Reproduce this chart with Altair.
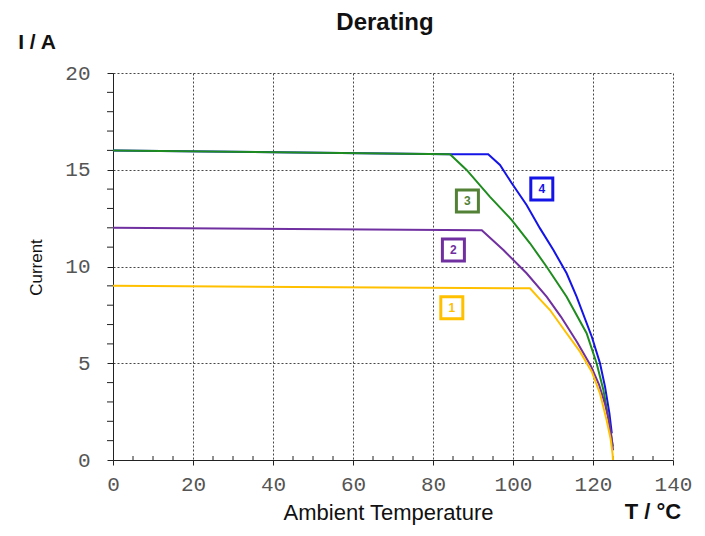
import altair as alt
import pandas as pd

# ---- data ----
t1 = [0, 104.25, 106.75, 109.25, 113.4, 116.75, 119.7, 121.75, 123.4, 124.4, 124.9, 125]
i1 = [9.0, 8.87, 8.3, 7.75, 6.55, 5.6, 4.56, 3.44, 2.07, 1.1, 0.3, 0]

t2 = [0, 92.2, 97.6, 103.4, 108.4, 112.0, 116.0, 119.5, 121.5, 123.0, 124.0, 124.7, 125]
i2 = [12.0, 11.87, 10.85, 9.65, 8.44, 7.4, 6.1, 4.85, 3.9, 2.9, 2.0, 1.1, 0.5]

t3 = [0, 84.25, 88.4, 94.25, 99.7, 104.25, 108.4, 113.4, 118.4, 120.9, 122.6, 123.8, 124.7, 125]
i3 = [16.0, 15.8, 14.99, 13.6, 12.4, 11.2, 9.99, 8.44, 6.55, 5.0, 3.62, 2.24, 1.0, 0.7]

t4 = [0, 84.25, 93.8, 96.75, 99.7, 103.4, 106.75, 110.1, 113.4, 115.9, 119.7, 121.75, 123.0, 124.1, 124.7]
i4 = [16.0, 15.8, 15.8, 15.25, 14.3, 13.18, 11.97, 10.85, 9.65, 8.44, 6.37, 5.0, 3.79, 2.41, 1.38]

series_names = ["1", "2", "3", "4"]
line_colors = ["#FFC000", "#7030A0", "#1E8C1E", "#1414E6"]

label_T = [84.7, 85.1, 88.6, 107.2]
label_I = [7.87, 10.85, 13.38, 14.0]
label_text = ["1", "2", "3", "4"]
label_colors = ["#FFC000", "#7030A0", "#538135", "#1414E6"]

x_major = [0, 20, 40, 60, 80, 100, 120, 140]
y_major = [0, 5, 10, 15, 20]
x_minor = [v for v in range(5, 140, 5) if v % 20 != 0]
y_minor = [v for v in range(1, 20) if v % 5 != 0]

W, H = 560, 387
LABEL_FONT = "Liberation Mono"
TEXT_FONT = "Liberation Sans"

xs = alt.Scale(domain=[0, 140], nice=False)
ys = alt.Scale(domain=[0, 20], nice=False)

x_axis = alt.Axis(values=x_major, grid=True, gridDash=[2, 2], gridColor="#333",
                  gridOpacity=0.9, domainColor="#222", tickColor="#222", tickSize=5,
                  labelFont=LABEL_FONT, labelFontSize=21, labelColor="#555",
                  labelPadding=8, title="Ambient Temperature", titleFont=TEXT_FONT,
                  titleFontSize=22, titleFontWeight="normal", titleColor="#111",
                  titleX=275, titleY=59, titleBaseline="alphabetic", titleAlign="center",
                  labelFlush=False)
y_axis = alt.Axis(values=y_major, grid=True, gridDash=[2, 2], gridColor="#333",
                  gridOpacity=0.9, domainColor="#222", tickColor="#222", tickSize=6,
                  labelFont=LABEL_FONT, labelFontSize=21, labelColor="#555",
                  labelPadding=17, title="Current", titleFont=TEXT_FONT,
                  titleFontSize=17, titleFontWeight="normal", titleColor="#111",
                  titleX=-72, titleY=194, titleBaseline="alphabetic", titleAlign="center",
                  titleAngle=270, labelFlush=False)

# base (axes + grid)
axes_df = pd.DataFrame({"T": [0, 140], "I": [0, 20]})
base = alt.Chart(axes_df).mark_point(opacity=0).encode(
    x=alt.X("T:Q", scale=xs, axis=x_axis),
    y=alt.Y("I:Q", scale=ys, axis=y_axis),
)

layers = [base]

# minor ticks
xm = alt.Chart(pd.DataFrame({"T": x_minor})).mark_rule(color="#222", strokeWidth=1).encode(
    x=alt.X("T:Q", scale=xs), y=alt.value(H - 4), y2=alt.value(H + 1))
ym = alt.Chart(pd.DataFrame({"I": y_minor})).mark_rule(color="#222", strokeWidth=1).encode(
    y=alt.Y("I:Q", scale=ys), x=alt.value(-6), x2=alt.value(0))
layers += [xm, ym]

# curves: draw 4 first so 3 lies on top of the shared flat part
curves = {"1": (t1, i1), "2": (t2, i2), "3": (t3, i3), "4": (t4, i4)}
for name in ["4", "3", "2", "1"]:
    ts, is_ = curves[name]
    col = line_colors[series_names.index(name)]
    d = pd.DataFrame({"T": ts, "I": is_, "k": list(range(len(ts)))})
    layers.append(alt.Chart(d).mark_line(color=col, strokeWidth=2).encode(
        x=alt.X("T:Q", scale=xs), y=alt.Y("I:Q", scale=ys), order="k:Q"))

lab_df = pd.DataFrame({"T": label_T, "I": label_I, "txt": label_text})
cscale = alt.Scale(domain=label_text, range=label_colors)
boxes = alt.Chart(lab_df).mark_square(filled=False, size=484, strokeWidth=3, opacity=1).encode(
    x=alt.X("T:Q", scale=xs), y=alt.Y("I:Q", scale=ys),
    color=alt.Color("txt:N", scale=cscale, legend=None))
nums = alt.Chart(lab_df).mark_text(font=TEXT_FONT, fontWeight="bold", fontSize=12).encode(
    x=alt.X("T:Q", scale=xs), y=alt.Y("I:Q", scale=ys), text="txt:N",
    color=alt.Color("txt:N", scale=cscale, legend=None))
layers += [boxes, nums]

# title and unit annotations
ann_df = pd.DataFrame({"a": [1]})
title = alt.Chart(ann_df).mark_text(font=TEXT_FONT, fontWeight="bold", fontSize=24,
                                    color="#111", align="center", baseline="alphabetic").encode(
    x=alt.value(272), y=alt.value(-43), text=alt.value("Derating"))
ia = alt.Chart(ann_df).mark_text(font=TEXT_FONT, fontWeight="bold", fontSize=21,
                                 color="#111", align="center", baseline="alphabetic").encode(
    x=alt.value(-76), y=alt.value(-24), text=alt.value("I / A"))
tc = alt.Chart(ann_df).mark_text(font=TEXT_FONT, fontWeight="bold", fontSize=22,
                                 color="#111", align="center", baseline="alphabetic").encode(
    x=alt.value(540), y=alt.value(446), text=alt.value("T / °C"))
layers += [title, ia, tc]

chart = alt.layer(*layers).properties(
    width=W, height=H,
    autosize=alt.AutoSizeParams(type="none"),
    padding={"left": 105, "top": 65, "right": 20, "bottom": 66},
).configure_view(stroke=None)

chart.save("out.html", embed_options={"renderer": "svg", "actions": False})
